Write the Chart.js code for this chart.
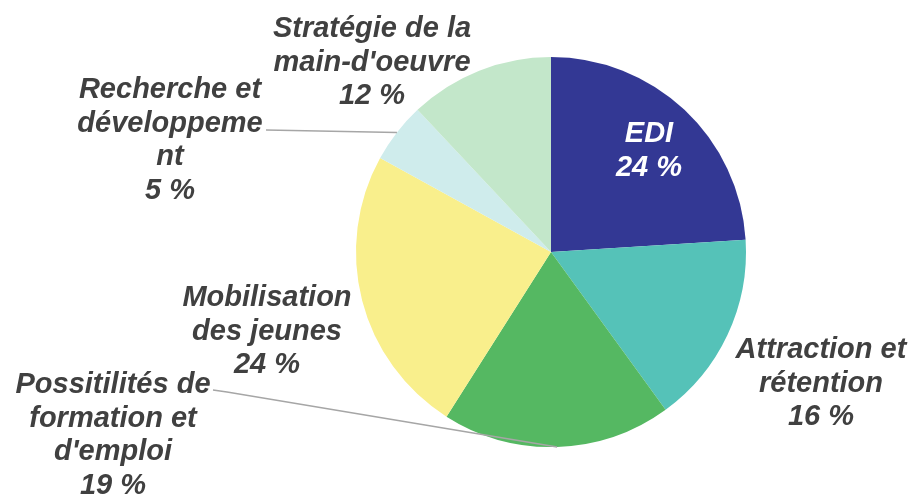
<!DOCTYPE html>
<html><head><meta charset="utf-8">
<script src="https://cdn.jsdelivr.net/npm/chart.js@4/dist/chart.umd.min.js"></script>
<style>html,body{margin:0;padding:0;background:#fff}#wrap{width:912px;height:495px}</style>
</head><body><div id="wrap"><canvas id="c" width="912" height="495"></canvas></div>
<script>
const categories = [
  ["EDI"],
  ["Attraction et", "rétention"],
  ["Possitilités de", "formation et", "d'emploi"],
  ["Mobilisation", "des jeunes"],
  ["Recherche et", "développeme", "nt"],
  ["Stratégie de la", "main-d'oeuvre"]
];
const values = [24, 16, 19, 24, 5, 12];
const colors = ["#333894", "#55C2B8", "#55B862", "#F9EF8C", "#CFECEC", "#C3E7CA"];

// label block layout: center x, first baseline y, text colour, leader line start (or null)
const labelLayout = [
  {x: 649, y: 142, color: "#FFFFFF", leader: null},
  {x: 821, y: 358, color: "#404040", leader: null},
  {x: 113, y: 393, color: "#404040", leader: [[213, 390], [227, 392]]},
  {x: 267, y: 306, color: "#404040", leader: null},
  {x: 170, y: 98,  color: "#404040", leader: [[266, 130]]},
  {x: 372, y: 37,  color: "#404040", leader: null}
];
const lineHeight = 33.5;

const labelPlugin = {
  id: 'pieLabels',
  afterDatasetsDraw(chart) {
    const ctx = chart.ctx;
    const meta = chart.getDatasetMeta(0);
    ctx.save();
    meta.data.forEach((arc, i) => {
      const L = labelLayout[i];
      if (L.leader) {
        const p = arc.getProps(['x','y','startAngle','endAngle','outerRadius'], true);
        const mid = (p.startAngle + p.endAngle) / 2;
        const ex = p.x + Math.cos(mid) * p.outerRadius;
        const ey = p.y + Math.sin(mid) * p.outerRadius;
        ctx.beginPath();
        ctx.strokeStyle = "#A6A6A6";
        ctx.lineWidth = 1.5;
        ctx.moveTo(L.leader[0][0], L.leader[0][1]);
        for (let k = 1; k < L.leader.length; k++) ctx.lineTo(L.leader[k][0], L.leader[k][1]);
        ctx.lineTo(ex, ey);
        ctx.stroke();
      }
      const lines = categories[i].concat([values[i] + " %"]);
      ctx.font = "italic bold 29px 'Liberation Sans', Arial, sans-serif";
      ctx.fillStyle = L.color;
      ctx.textAlign = "center";
      ctx.textBaseline = "alphabetic";
      lines.forEach((t, k) => ctx.fillText(t, L.x, L.y + k * lineHeight));
    });
    ctx.restore();
  }
};

new Chart(document.getElementById('c'), {
  type: 'pie',
  data: {
    labels: categories.map(c => c.join(' ')),
    datasets: [{
      data: values,
      backgroundColor: colors,
      borderWidth: 0
    }]
  },
  options: {
    responsive: false,
    animation: false,
    layout: {padding: {left: 356, right: 166, top: 57, bottom: 48}},
    plugins: {legend: {display: false}, tooltip: {enabled: false}}
  },
  plugins: [labelPlugin]
});
</script>
</body></html>
